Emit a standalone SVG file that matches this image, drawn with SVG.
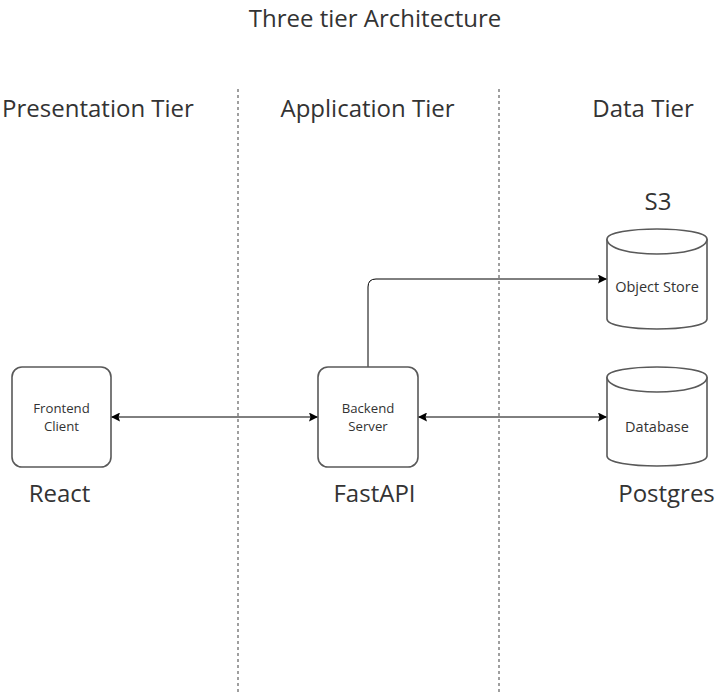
<svg xmlns="http://www.w3.org/2000/svg" width="717" height="693" viewBox="0 0 717 693">
<style>
.t{font-family:"Open Sans","Noto Sans","Liberation Sans",sans-serif;fill:#333;text-anchor:middle}
.big{font-size:24px}
.small{font-size:14.5px}
.two{font-size:13.2px}
.box{fill:#fff;stroke:#595959;stroke-width:1.6}
.div{stroke:#888;stroke-width:1.6;stroke-dasharray:3 3;fill:none}
.edge{stroke:#000;stroke-width:1;fill:none}
</style>
<defs>
<marker id="arr" viewBox="0 0 9 9" refX="9" refY="4.5" markerWidth="9" markerHeight="9" markerUnits="userSpaceOnUse" orient="auto-start-reverse">
<path d="M0,0 L9,4.5 L0,9 L1.5,4.5 Z" fill="#000"/>
</marker>
</defs>
<rect width="717" height="693" fill="#fff"/>
<g id="titles">
<text class="t big" x="375" y="27">Three tier Architecture</text>
<text class="t big" x="98" y="117">Presentation Tier</text>
<text class="t big" x="367.5" y="117">Application Tier</text>
<text class="t big" x="643" y="117">Data Tier</text>
</g>
<g id="dividers">
<line class="div" x1="238" y1="89" x2="238" y2="692"/>
<line class="div" x1="499" y1="89" x2="499" y2="692"/>
</g>
<g id="connectors">
<line class="edge" x1="111" y1="417" x2="318" y2="417" marker-start="url(#arr)" marker-end="url(#arr)"/>
<line class="edge" x1="418" y1="417" x2="607" y2="417" marker-start="url(#arr)" marker-end="url(#arr)"/>
<path class="edge" d="M368,367 V287 Q368,279 376,279 H607" marker-end="url(#arr)"/>
</g>
<g id="frontend">
<rect class="box" x="12" y="367" width="99" height="100" rx="10"/>
<text class="t two" x="61.5" y="413">Frontend</text>
<text class="t two" x="61.5" y="431">Client</text>
<text class="t big" x="59.5" y="502">React</text>
</g>
<g id="backend">
<rect class="box" x="318" y="367" width="100" height="100" rx="10"/>
<text class="t two" x="368" y="413">Backend</text>
<text class="t two" x="368" y="431">Server</text>
<text class="t big" x="374.5" y="502">FastAPI</text>
</g>
<g id="objectstore">
<text class="t big" x="658" y="210">S3</text>
<path class="box" d="M607,239 C607,225.7 707,225.7 707,239 L707,319 C707,332.3 607,332.3 607,319 Z"/>
<path class="box" d="M607,239 C607,259 707,259 707,239" fill="none"/>
<text class="t small" x="657" y="292">Object Store</text>
</g>
<g id="database">
<path class="box" d="M607,377 C607,363.7 707,363.7 707,377 L707,456 C707,469.3 607,469.3 607,456 Z"/>
<path class="box" d="M607,377 C607,397 707,397 707,377" fill="none"/>
<text class="t small" x="657" y="431.5">Database</text>
<text class="t big" x="666.5" y="502">Postgres</text>
</g>
</svg>
